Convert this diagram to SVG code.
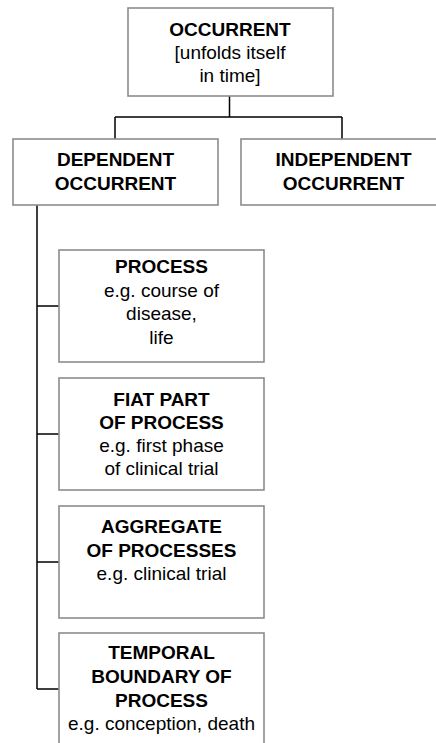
<svg xmlns="http://www.w3.org/2000/svg" width="436" height="743" viewBox="0 0 436 743">
<style>
.box{fill:#fff;stroke:#8c8c8c;stroke-width:1.6}
.con{fill:none;stroke:#000;stroke-width:1.5}
text{font-family:"Liberation Sans",Arial,sans-serif;font-size:19px;fill:#000;text-anchor:middle}
.b{font-weight:bold}
</style>
<rect width="436" height="743" fill="#fff"/>
<g id="connectors">
<path class="con" d="M229.5 96V117M115 117H342M115 117V139M342 117V139"/>
<path class="con" d="M37 205V689M37 306H59M37 434H59M37 562H59M37 689H59"/>
</g>
<g id="occurrent">
<rect class="box" x="128" y="8" width="205" height="88"/>
<text x="230" y="36" class="b">OCCURRENT</text>
<text x="230" y="59">[unfolds itself</text>
<text x="230" y="82">in time]</text>
</g>
<g id="dependent">
<rect class="box" x="13" y="139" width="205" height="66"/>
<text x="115.5" y="166" class="b">DEPENDENT</text>
<text x="115.5" y="190" class="b">OCCURRENT</text>
</g>
<g id="independent">
<rect class="box" x="241" y="139" width="205" height="66"/>
<text x="343.5" y="166" class="b">INDEPENDENT</text>
<text x="343.5" y="190" class="b">OCCURRENT</text>
</g>
<g id="process">
<rect class="box" x="59" y="250" width="205" height="112"/>
<text x="161.5" y="273" class="b">PROCESS</text>
<text x="161.5" y="297">e.g. course of</text>
<text x="161.5" y="320">disease,</text>
<text x="161.5" y="344">life</text>
</g>
<g id="fiat">
<rect class="box" x="59" y="378" width="205" height="112"/>
<text x="161.5" y="406" class="b">FIAT PART</text>
<text x="161.5" y="429" class="b">OF PROCESS</text>
<text x="161.5" y="452">e.g. first phase</text>
<text x="161.5" y="475">of clinical trial</text>
</g>
<g id="aggregate">
<rect class="box" x="59" y="506" width="205" height="112"/>
<text x="161.5" y="533" class="b">AGGREGATE</text>
<text x="161.5" y="557" class="b">OF PROCESSES</text>
<text x="161.5" y="580">e.g. clinical trial</text>
</g>
<g id="temporal">
<rect class="box" x="59" y="633" width="205" height="112"/>
<text x="161.5" y="659" class="b">TEMPORAL</text>
<text x="161.5" y="683" class="b">BOUNDARY OF</text>
<text x="161.5" y="707" class="b">PROCESS</text>
<text x="161.5" y="730">e.g. conception, death</text>
</g>
</svg>
